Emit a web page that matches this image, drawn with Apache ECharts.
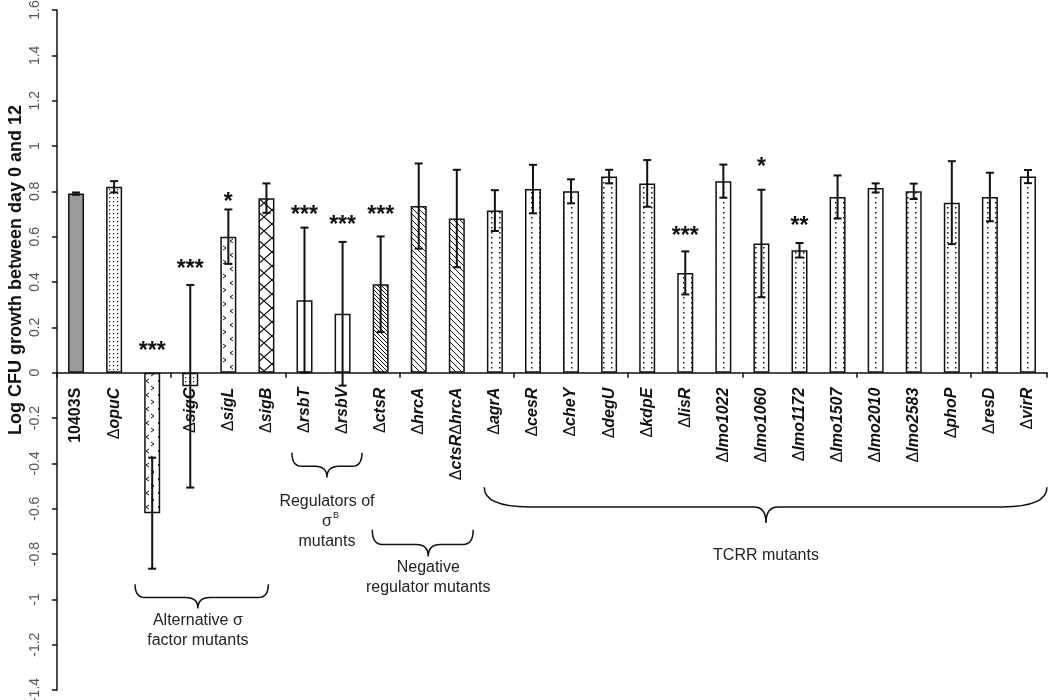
<!DOCTYPE html>
<html>
<head>
<meta charset="utf-8">
<script src="https://cdn.jsdelivr.net/npm/echarts@6/dist/echarts.min.js"></script>
<style>
  html, body { margin: 0; padding: 0; background: #fff; }
  #chart { width: 1050px; height: 700px; }
</style>
</head>
<body>
<div id="chart"></div>
<script>
// data
const categories = ['10403S', 'ΔopuC', 'ΔsigH', 'ΔsigC', 'ΔsigL', 'ΔsigB', 'ΔrsbT', 'ΔrsbV', 'ΔctsR', 'ΔhrcA',
  'ΔctsRΔhrcA', 'ΔagrA', 'ΔcesR', 'ΔcheY', 'ΔdegU', 'ΔkdpE', 'ΔlisR', 'Δlmo1022', 'Δlmo1060', 'Δlmo1172',
  'Δlmo1507', 'Δlmo2010', 'Δlmo2583', 'ΔphoP', 'ΔresD', 'ΔvirR']
const means = [0.79, 0.82, -0.62, -0.06, 0.60, 0.77, 0.32, 0.26, 0.39, 0.735,
  0.68, 0.715, 0.81, 0.80, 0.865, 0.835, 0.44, 0.845, 0.57, 0.54,
  0.775, 0.815, 0.80, 0.75, 0.775, 0.865]
const errors = [0.005, 0.025, 0.245, 0.447, 0.12, 0.065, 0.32, 0.317, 0.211, 0.188,
  0.215, 0.09, 0.107, 0.053, 0.03, 0.103, 0.095, 0.073, 0.237, 0.032,
  0.095, 0.02, 0.034, 0.183, 0.107, 0.029]
const stars = ['', '', '***', '***', '*', '', '***', '***', '***', '',
  '', '', '', '', '', '', '***', '', '*', '**',
  '', '', '', '', '', '']
const starAt = [null, null, 0.123, 0.487, 0.782, null, 0.724, 0.68, 0.724, null,
  null, null, null, null, null, null, 0.632, null, 0.934, 0.673,
  null, null, null, null, null, null]
const fills = ['gray', 'grid', 'chevron', 'grid', 'chevron', 'zigzag', 'blank', 'blank', 'hatchDense', 'hatch',
  'hatch', 'dots', 'dots', 'dots', 'dots', 'dots', 'dots', 'dots', 'dots', 'dots',
  'dots', 'dots', 'dots', 'dots', 'dots', 'dots']

// group braces (category index span, value positions)
const groupLines = [['Alternative σ', 'factor mutants'], ['Regulators of', 'σ', 'mutants'], ['Negative', 'regulator mutants'], ['TCRR mutants']]
const groupFrom = [1.55, 5.67, 7.78, 10.72]
const groupTo = [5.05, 7.51, 10.43, 25.5]
const groupMid = [3.2, 6.59, 9.25, 18.12]
const braceTop = [-0.933, -0.353, -0.693, -0.506]
const braceTip = [-1.04, -0.462, -0.811, -0.663]
const labelTop = [-1.094, -0.571, -0.859, -0.806]

const yMin = -1.4
const yMax = 1.6
const yStep = 0.2

const FONT = 'Liberation Sans, Arial, sans-serif'

function tile(w, h, draw) {
  const c = document.createElement('canvas')
  c.width = w
  c.height = h
  const ctx = c.getContext('2d')
  ctx.fillStyle = '#fff'
  ctx.fillRect(0, 0, w, h)
  ctx.strokeStyle = '#111'
  ctx.fillStyle = '#111'
  ctx.lineWidth = 1
  draw(ctx)
  return { image: c, repeat: 'repeat' }
}

const patterns = {
  gray: '#9a9a9a',
  blank: '#ffffff',
  grid: tile(4, 4, ctx => {
    ctx.fillRect(1, 1, 1.2, 1.2)
  }),
  dots: tile(8, 5, ctx => {
    ctx.fillRect(3, 2, 1.5, 1.5)
  }),
  chevron: tile(12, 14, ctx => {
    ctx.beginPath()
    ctx.moveTo(5, 1); ctx.lineTo(2, 3); ctx.lineTo(5, 5)
    ctx.moveTo(7, 8); ctx.lineTo(10, 10); ctx.lineTo(7, 12)
    ctx.stroke()
  }),
  zigzag: tile(16, 14, ctx => {
    ctx.lineWidth = 1.3
    ctx.beginPath()
    ctx.moveTo(0, 0); ctx.lineTo(16, 14)
    ctx.moveTo(16, 0); ctx.lineTo(0, 14)
    ctx.stroke()
  }),
  hatch: tile(6, 6, ctx => {
    ctx.beginPath()
    ctx.moveTo(-1, -1); ctx.lineTo(7, 7)
    ctx.moveTo(-1, 5); ctx.lineTo(1, 7)
    ctx.moveTo(5, -1); ctx.lineTo(7, 1)
    ctx.stroke()
  }),
  hatchDense: tile(4, 4, ctx => {
    ctx.beginPath()
    ctx.moveTo(-1, -1); ctx.lineTo(5, 5)
    ctx.moveTo(-1, 3); ctx.lineTo(1, 5)
    ctx.moveTo(3, -1); ctx.lineTo(5, 1)
    ctx.stroke()
  })
}

function labelFmt(v) {
  if (v.indexOf('Δ') < 0) return '{b|' + v + '}'
  return v.split('Δ').filter(s => s).map(s => '{d|Δ}{g|' + s + '}').join('')
}

const labelRich = {
  b: { fontSize: 16, fontWeight: 'bold', fontFamily: FONT, fill: '#111' },
  d: { fontSize: 16, fontWeight: 'normal', fontFamily: FONT, fill: '#111' },
  g: { fontSize: 16, fontWeight: 'bold', fontStyle: 'italic', fontFamily: FONT, fill: '#111' }
}

const chart = echarts.init(document.getElementById('chart'))

const option = {
  animation: false,
  backgroundColor: '#fff',
  grid: { left: 57, right: 3, top: 10, bottom: 10, containLabel: false, outerBoundsMode: 'none' },
  xAxis: {
    type: 'category',
    data: categories,
    axisLine: { onZero: true, lineStyle: { color: '#111', width: 1.5 } },
    axisTick: { show: true, length: 5, lineStyle: { color: '#111', width: 1.5 } },
    axisLabel: { show: false },
    splitLine: { show: false }
  },
  yAxis: {
    type: 'value',
    min: yMin,
    max: yMax,
    interval: yStep,
    axisLine: { show: true, onZero: false, lineStyle: { color: '#111', width: 1.5 } },
    axisTick: { show: true, length: 5, lineStyle: { color: '#111', width: 1.5 } },
    axisLabel: {
      rotate: 90,
      margin: 15,
      fontSize: 14,
      fontFamily: FONT,
      color: '#555',
      formatter: v => String(Math.round(v * 10) / 10)
    },
    splitLine: { show: false }
  },
  graphic: [{
    type: 'text',
    x: 16,
    y: 270,
    rotation: Math.PI / 2,
    style: {
      text: 'Log CFU growth between day 0 and 12',
      font: 'bold 18px ' + FONT,
      fill: '#111',
      align: 'center',
      verticalAlign: 'middle'
    }
  }],
  series: [
    {
      name: 'mean',
      type: 'bar',
      barWidth: 16,
      z: 2,
      data: means.map((m, i) => ({
        value: m,
        itemStyle: { color: patterns[fills[i]], borderColor: '#111', borderWidth: 1.5 }
      }))
    },
    {
      name: 'labels',
      type: 'custom',
      z: 1,
      clip: false,
      data: categories.map((c, i) => [i, 0]),
      renderItem: function (params, api) {
        const p = api.coord([api.value(0), 0])
        return {
          type: 'text',
          x: p[0],
          y: p[1] + 15,
          rotation: Math.PI / 2,
          style: {
            text: labelFmt(categories[params.dataIndex]),
            rich: labelRich,
            align: 'right',
            verticalAlign: 'middle'
          }
        }
      }
    },
    {
      name: 'error',
      type: 'custom',
      z: 3,
      data: means.map((m, i) => [i, m - errors[i], m + errors[i]]),
      renderItem: function (params, api) {
        const lo = api.coord([api.value(0), api.value(1)])
        const hi = api.coord([api.value(0), api.value(2)])
        const cap = 4
        const style = { stroke: '#111', lineWidth: 2 }
        return {
          type: 'group',
          children: [
            { type: 'line', shape: { x1: lo[0], y1: lo[1], x2: hi[0], y2: hi[1] }, style },
            { type: 'line', shape: { x1: hi[0] - cap, y1: hi[1], x2: hi[0] + cap, y2: hi[1] }, style },
            { type: 'line', shape: { x1: lo[0] - cap, y1: lo[1], x2: lo[0] + cap, y2: lo[1] }, style }
          ]
        }
      }
    },
    {
      name: 'stars',
      type: 'custom',
      z: 4,
      data: starAt.map((y, i) => [i, y]).filter(d => d[1] !== null),
      renderItem: function (params, api) {
        const p = api.coord([api.value(0), api.value(1)])
        return {
          type: 'text',
          x: p[0],
          y: p[1] + 7,
          style: {
            text: stars[api.value(0)],
            font: 'bold 23px ' + FONT,
            fill: '#111',
            align: 'center',
            verticalAlign: 'middle'
          }
        }
      }
    },
    {
      name: 'groups',
      type: 'custom',
      z: 4,
      clip: false,
      data: braceTop.map(v => [0, v]),
      renderItem: function (params, api) {
        const k = params.dataIndex
        const x0 = api.coord([0, 0])[0]
        const bw = api.size([1, 0])[0]
        const px = i => x0 + i * bw
        const py = v => api.coord([0, v])[1]
        const a = px(groupFrom[k]), b = px(groupTo[k]), m = px(groupMid[k])
        const top = py(braceTop[k]), tip = py(braceTip[k])
        const mid = top + (tip - top) * 0.55
        const r = k === 3 ? 45 : 10
        const path = 'M' + a + ',' + top +
          ' Q' + a + ',' + mid + ' ' + (a + r) + ',' + mid +
          ' L' + (m - 12) + ',' + mid +
          ' Q' + m + ',' + mid + ' ' + m + ',' + tip +
          ' Q' + m + ',' + mid + ' ' + (m + 12) + ',' + mid +
          ' L' + (b - r) + ',' + mid +
          ' Q' + b + ',' + mid + ' ' + b + ',' + top
        const children = [{
          type: 'path',
          shape: { pathData: path },
          style: { stroke: '#111', lineWidth: 1.5, fill: 'none' }
        }]
        const y0 = py(labelTop[k])
        groupLines[k].forEach((line, j) => {
          children.push({
            type: 'text',
            x: m,
            y: y0 + j * 20,
            style: {
              text: line,
              font: '16px ' + FONT,
              fill: '#222',
              align: 'center',
              verticalAlign: 'middle'
            }
          })
          if (line === 'σ') {
            children.push({
              type: 'text',
              x: m + 6,
              y: y0 + j * 20 - 7,
              style: { text: 'B', font: '9px ' + FONT, fill: '#222', align: 'left', verticalAlign: 'middle' }
            })
          }
        })
        return { type: 'group', children }
      }
    }
  ]
}

chart.setOption(option)
window.addEventListener('resize', function () {
  chart.resize()
})
</script>
</body>
</html>
